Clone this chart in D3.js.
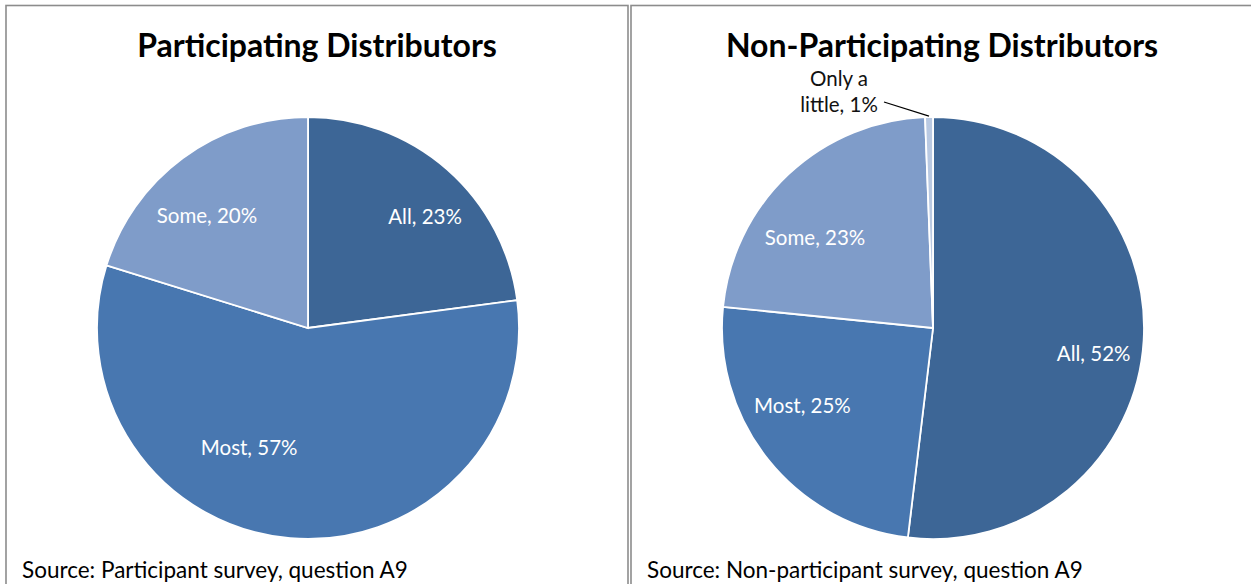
<html>
<head>
<style>
  body { margin: 0; background: white; }
  text { font-family: Lato, "Open Sans", sans-serif; }
</style>
</head>
<body>
<script src="https://d3js.org/d3.v7.min.js"></script>
<script>

var width = 1251, height = 584;

// data
var categories = ["All", "Most", "Some", "Only a little"];
var participating = [22.9, 56.9, 20.2];
var nonParticipating = [51.9, 24.7, 22.8, 0.6];
var titles = ["Participating Distributors", "Non-Participating Distributors"];
var sources = ["Source: Participant survey, question A9", "Source: Non-participant survey, question A9"];

var colors = ["#3d6696", "#4877b0", "#7f9cc9", "#b9c9e2"];

// label nudges from centroid (Excel best-fit placement)
var nudges = [
  [[17, 3], [-46, -32], [-11, 10]],
  [[9, 17], [-12, -17], [-14, 21], null]
];

var panels = [
  { x0: 6, x1: 628, cx: 308, title: titles[0], source: sources[0], values: participating, tx: 317 },
  { x0: 631, x1: 1262, cx: 933, title: titles[1], source: sources[1], values: nonParticipating, tx: 942 }
];

var radius = 211, cy = 328;

var svg = d3.select("body").append("svg")
  .attr("width", width)
  .attr("height", height);

var pie = d3.pie().sort(null).value(function(d) { return d; });
var arc = d3.arc().innerRadius(0).outerRadius(radius);
var labelArc = d3.arc().innerRadius(radius * 0.72).outerRadius(radius * 0.72);

panels.forEach(function(p, pi) {
  svg.append("rect")
    .attr("x", p.x0).attr("y", 5.5)
    .attr("width", p.x1 - p.x0).attr("height", 600)
    .attr("fill", "none")
    .attr("stroke", "#8c8c8c")
    .attr("stroke-width", 1.6);

  svg.append("text")
    .attr("x", p.tx).attr("y", 57)
    .attr("text-anchor", "middle")
    .style("font-size", "32px")
    .style("font-weight", "bold")
    .text(p.title);

  svg.append("text")
    .attr("x", p.x0 + 16).attr("y", 578)
    .style("font-size", "22.5px")
    .text(p.source);

  var g = svg.append("g").attr("transform", "translate(" + p.cx + "," + cy + ")");
  var arcs = pie(p.values);

  g.selectAll("path").data(arcs).enter().append("path")
    .attr("d", arc)
    .attr("fill", function(d, i) { return colors[i]; })
    .attr("stroke", "white")
    .attr("stroke-width", 1.8);

  arcs.forEach(function(d, i) {
    var label = categories[i] + ", " + Math.round(d.data) + "%";
    var n = nudges[pi][i];
    if (n) {
      var c = labelArc.centroid(d);
      g.append("text")
        .attr("x", c[0] + n[0]).attr("y", c[1] + n[1])
        .attr("dy", "0.35em")
        .attr("text-anchor", "middle")
        .attr("fill", "white")
        .style("font-size", "20.5px")
        .text(label);
    } else {
      // small slice: label outside with leader line
      var mid = (d.startAngle + d.endAngle) / 2;
      var px = Math.sin(mid) * (radius + 1), py = -Math.cos(mid) * (radius + 1);
      var lx = -49, ly = -radius - 15;
      g.append("path")
        .attr("d", "M" + lx + "," + ly + "L" + px + "," + py)
        .attr("stroke", "black").attr("stroke-width", 1.3).attr("fill", "none");
      var t = g.append("text")
        .attr("text-anchor", "middle")
        .attr("fill", "#111")
        .style("font-size", "20.5px");
      t.append("tspan").attr("x", lx - 45).attr("y", -radius - 31).text("Only a");
      t.append("tspan").attr("x", lx - 45).attr("y", -radius - 5).text("little, " + Math.round(d.data) + "%");
    }
  });
});
</script>
</body>
</html>
